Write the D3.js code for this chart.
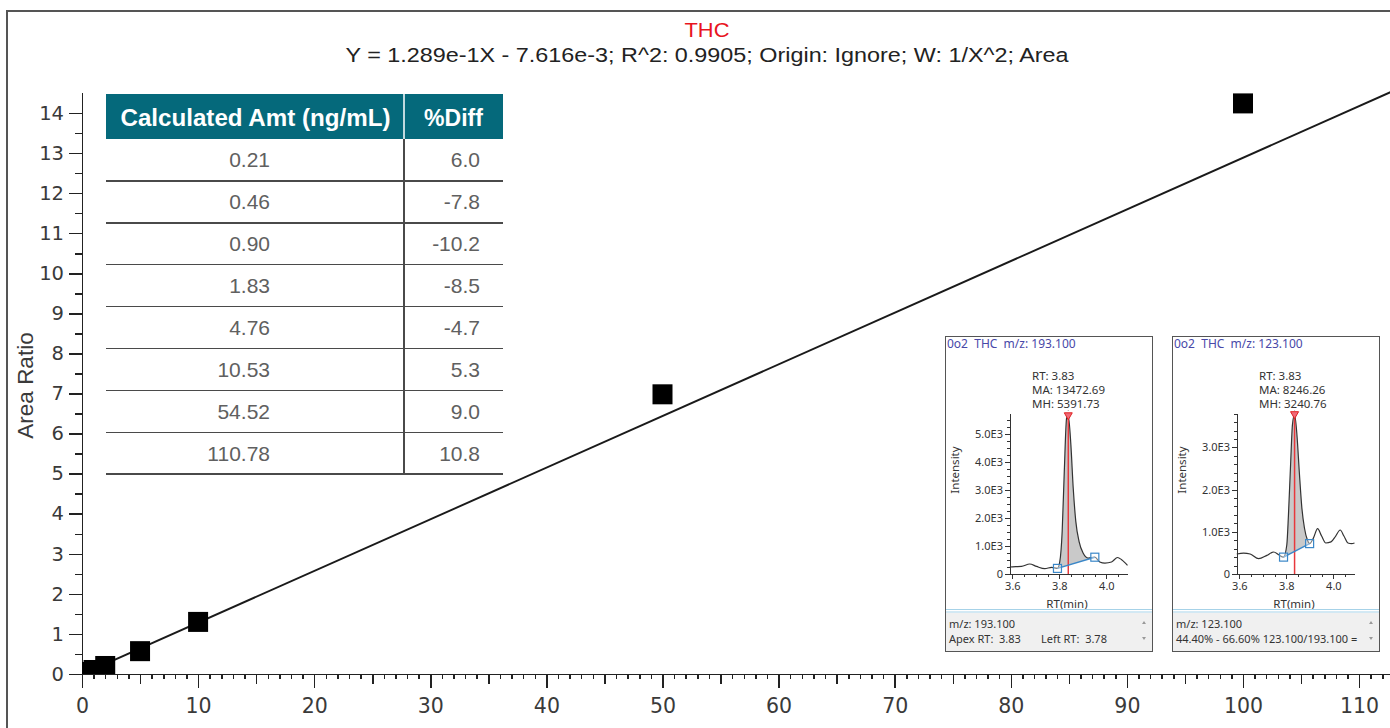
<!DOCTYPE html>
<meta charset="utf-8">
<style>
body { margin: 0; background: #fff; }
svg { display: block; font-family: "Liberation Sans", Arial, sans-serif; }
.axis path, .axis line { fill: none; stroke: #222; stroke-width: 1.5px; shape-rendering: crispEdges; }
.axis text { fill: #3a3a3a; font-family: "DejaVu Sans", sans-serif; }
.fit { fill: none; stroke: #1a1a1a; stroke-width: 1.9px; }
.std { fill: #000; }
.tbl-line { stroke: #4a4a4a; stroke-width: 1.5px; shape-rendering: crispEdges; }
.tbl-text { fill: #606060; font-size: 21px; }
.inset text { font-family: "Noto Sans", "Open Sans", sans-serif; font-size: 11.5px; fill: #333; white-space: pre; }
.inset .axis path, .inset .axis line { stroke: #333; stroke-width: 1px; }
.inset .axis text { font-family: "Noto Sans", "Open Sans", sans-serif; font-size: 11px; fill: #333; }
.trace { fill: none; stroke: #333; stroke-width: 1.2px; }
</style>
<body>
<svg width="1390" height="728"></svg>
<script src="https://cdnjs.cloudflare.com/ajax/libs/d3/7.8.5/d3.min.js"></script>
<script>
// calibration standards (ng/mL) and measured area ratio
var nominal = [0.2, 0.5, 1, 2, 5, 10, 50, 100];
var areaRatio = [0.02, 0.05, 0.1, 0.2, 0.57, 1.3, 6.98, 14.24];

// fitted line end points
var fitX = [0, 113];
var fitY = [-0.008, 14.558];

var xTicks = [0, 10, 20, 30, 40, 50, 60, 70, 80, 90, 100, 110];
var yTicks = [0, 1, 2, 3, 4, 5, 6, 7, 8, 9, 10, 11, 12, 13, 14];

// back-calculated table
var calcAmt = ["0.21", "0.46", "0.90", "1.83", "4.76", "10.53", "54.52", "110.78"];
var pctDiff = ["6.0", "-7.8", "-10.2", "-8.5", "-4.7", "5.3", "9.0", "10.8"];

// chromatogram m/z 193.100
var rt1 = [3.589, 3.615, 3.639, 3.674, 3.703, 3.738, 3.767, 3.792, 3.802, 3.812, 3.821, 3.831, 3.838, 3.849, 3.859, 3.870, 3.884, 3.901, 3.923, 3.951, 3.972, 3.994, 4.022, 4.048, 4.065, 4.090];
var int1 = [250, 260, 270, 357, 270, 190, 236, 200, 450, 1520, 3660, 5570, 5650, 4620, 3070, 1880, 1160, 750, 570, 600, 430, 390, 430, 590, 510, 310];

// chromatogram m/z 123.100
var rt2 = [3.589, 3.618, 3.646, 3.682, 3.717, 3.746, 3.767, 3.788, 3.802, 3.809, 3.818, 3.826, 3.835, 3.845, 3.855, 3.866, 3.877, 3.890, 3.899, 3.915, 3.933, 3.950, 3.968, 3.990, 4.010, 4.029, 4.045, 4.062, 4.078, 4.090];
var int2 = [474, 497, 474, 363, 441, 521, 457, 400, 694, 1405, 2590, 3540, 3775, 3300, 2430, 1565, 1090, 800, 720, 850, 1073, 900, 735, 760, 900, 1043, 900, 735, 720, 735];

var svg = d3.select("svg");

// outer frame
svg.append("path")
    .attr("d", "M7,728V11H1390")
    .attr("fill", "none")
    .attr("stroke", "#555")
    .attr("stroke-width", 2);

svg.append("text")
    .attr("x", 707).attr("y", 37)
    .attr("text-anchor", "middle")
    .attr("fill", "#e8141e")
    .attr("textLength", 45)
    .attr("lengthAdjust", "spacingAndGlyphs")
    .style("font-size", "21px")
    .text("THC");

svg.append("text")
    .attr("x", 707).attr("y", 62)
    .attr("text-anchor", "middle")
    .attr("fill", "#222")
    .attr("textLength", 723)
    .attr("lengthAdjust", "spacingAndGlyphs")
    .style("font-size", "20.5px")
    .text("Y = 1.289e-1X - 7.616e-3; R^2: 0.9905; Origin: Ignore; W: 1/X^2; Area");

var x = d3.scaleLinear().domain([0, 113]).range([82, 82 + 113 * 11.61]);
var y = d3.scaleLinear().domain([0, 14.5]).range([674, 674 - 14.5 * 40.07]);

// x axis
var minorX = d3.range(0, 114).filter(function(d) { return d % 5 !== 0; });
var midX = d3.range(5, 114, 10);
svg.append("g").attr("class", "axis")
    .attr("transform", "translate(0," + y(0) + ")")
    .call(d3.axisBottom(x).tickValues(minorX).tickSize(5).tickSizeOuter(0).tickFormat(""));
svg.append("g").attr("class", "axis")
    .attr("transform", "translate(0," + y(0) + ")")
    .call(d3.axisBottom(x).tickValues(midX).tickSize(10).tickSizeOuter(0).tickFormat(""));
svg.append("g").attr("class", "axis")
    .attr("transform", "translate(0," + y(0) + ")")
    .call(d3.axisBottom(x).tickValues(xTicks).tickSize(14).tickSizeOuter(0).tickPadding(10))
    .selectAll("text").style("font-size", "20.5px");

// y axis
var minorY = d3.range(0.5, 14.5, 1);
svg.append("g").attr("class", "axis")
    .attr("transform", "translate(" + x(0) + ",0)")
    .call(d3.axisLeft(y).tickValues(minorY).tickSize(7).tickSizeOuter(0).tickFormat(""));
svg.append("g").attr("class", "axis")
    .attr("transform", "translate(" + x(0) + ",0)")
    .call(d3.axisLeft(y).tickValues(yTicks).tickSize(13).tickSizeOuter(0).tickPadding(5))
    .selectAll("text").style("font-size", "19.5px");

svg.append("text")
    .attr("transform", "translate(33," + y(7.2) + ") rotate(-90)")
    .attr("text-anchor", "middle")
    .attr("fill", "#3a3a3a")
    .style("font-size", "22.5px")
    .text("Area Ratio");

// plot clip
svg.append("clipPath").attr("id", "plotclip")
  .append("rect")
    .attr("x", x(0)).attr("y", 0)
    .attr("width", 1400).attr("height", y(0));

var plot = svg.append("g").attr("clip-path", "url(#plotclip)");

plot.append("path")
    .datum(d3.zip(fitX, fitY))
    .attr("class", "fit")
    .attr("d", d3.line().x(function(d) { return x(d[0]); }).y(function(d) { return y(d[1]); }));

var sq = 20;
plot.selectAll(".std")
    .data(d3.zip(nominal, areaRatio))
  .enter().append("rect")
    .attr("class", "std")
    .attr("x", function(d) { return x(d[0]) - sq / 2; })
    .attr("y", function(d) { return y(d[1]) - sq / 2; })
    .attr("width", sq)
    .attr("height", sq);

// table
var tx0 = 106, tDiv = 404, tx1 = 503, hTop = 94, hBot = 139, rowH = 41.9;
var rowY = d3.scaleLinear().domain([0, 1]).range([hBot, hBot + rowH]);
var tbl = svg.append("g");
tbl.append("rect")
    .attr("x", tx0).attr("y", hTop)
    .attr("width", tx1 - tx0).attr("height", hBot - hTop)
    .attr("fill", "#05697b");
tbl.append("line")
    .attr("x1", tDiv).attr("x2", tDiv).attr("y1", hTop).attr("y2", hBot)
    .attr("stroke", "#fff").attr("stroke-width", 1.5);
tbl.append("text")
    .attr("x", (tx0 + tDiv) / 2 + 0.5).attr("y", 126)
    .attr("text-anchor", "middle").attr("fill", "#fff")
    .attr("textLength", 270)
    .attr("lengthAdjust", "spacingAndGlyphs")
    .style("font-size", "23px").style("font-weight", "bold")
    .text("Calculated Amt (ng/mL)");
tbl.append("text")
    .attr("x", (tDiv + tx1) / 2).attr("y", 126)
    .attr("text-anchor", "middle").attr("fill", "#fff")
    .style("font-size", "23px").style("font-weight", "bold")
    .text("%Diff");
tbl.append("line")
    .attr("class", "tbl-line")
    .attr("x1", tDiv).attr("x2", tDiv)
    .attr("y1", hBot).attr("y2", rowY(calcAmt.length));
tbl.selectAll(".row-line")
    .data(calcAmt)
  .enter().append("line")
    .attr("class", "tbl-line")
    .attr("x1", tx0).attr("x2", tx1)
    .attr("y1", function(d, i) { return rowY(i + 1); })
    .attr("y2", function(d, i) { return rowY(i + 1); });
tbl.selectAll(".amt")
    .data(calcAmt)
  .enter().append("text")
    .attr("class", "tbl-text")
    .attr("x", 270)
    .attr("y", function(d, i) { return rowY(i + 0.5) + 7.5; })
    .attr("text-anchor", "end")
    .text(function(d) { return d; });
tbl.selectAll(".diff")
    .data(pctDiff)
  .enter().append("text")
    .attr("class", "tbl-text")
    .attr("x", 480)
    .attr("y", function(d, i) { return rowY(i + 0.5) + 7.5; })
    .attr("text-anchor", "end")
    .text(function(d) { return d; });

// chromatogram insets
function drawInset(x0, cfg) {
  var W = 207, H = 315;
  var g = svg.append("g").attr("class", "inset").attr("transform", "translate(" + x0 + ",336)");
  g.append("rect").attr("x", 0.5).attr("y", 0.5).attr("width", W).attr("height", H)
      .attr("fill", "#fff").attr("stroke", "#555");

  var ix = d3.scaleLinear().domain([3.59, 4.09]).range([65, 182.5]);
  var iy = d3.scaleLinear().domain([0, cfg.yMax]).range([238, 77]);

  g.append("text").attr("x", 2).attr("y", 12).style("fill", "#4848a8").style("font-size", "12px")
      .text(cfg.title);
  cfg.ann.forEach(function(t, i) {
    g.append("text").attr("x", 87).attr("y", 44 + i * 14).text(t);
  });

  var pts = d3.zip(cfg.rt, cfg.int);
  var inWin = pts.filter(function(d) { return d[0] >= cfg.left[0] && d[0] <= cfg.right[0]; });
  var lg = d3.line().x(function(d) { return ix(d[0]); }).y(function(d) { return iy(d[1]); }).curve(d3.curveMonotoneX);

  g.append("path").attr("d", lg(inWin) + "Z").attr("fill", "#c9c9c9");

  // dotted guide from apex up to the label
  g.append("line")
      .attr("x1", ix(cfg.apex[0])).attr("x2", ix(cfg.apex[0]))
      .attr("y1", 74).attr("y2", iy(cfg.apex[1]) - 4)
      .attr("stroke", "#aaa").attr("stroke-dasharray", "1,2");

  // y axis
  g.append("g").attr("class", "axis")
      .attr("transform", "translate(65,0)")
      .call(d3.axisLeft(iy).tickValues(d3.range(0, cfg.yMax, cfg.yMinor)).tickSize(3).tickSizeOuter(0).tickFormat(""));
  g.append("g").attr("class", "axis")
      .attr("transform", "translate(65,0)")
      .call(d3.axisLeft(iy).tickValues(cfg.yMajor).tickSize(5).tickSizeOuter(0).tickPadding(2)
        .tickFormat(function(d) { return d === 0 ? "0" : (d / 1000).toFixed(1) + "E3"; }));

  // x axis
  g.append("g").attr("class", "axis")
      .attr("transform", "translate(0,238)")
      .call(d3.axisBottom(ix).tickValues(d3.range(3.65, 4.09, 0.05)).tickSize(3).tickSizeOuter(0).tickFormat(""));
  g.append("g").attr("class", "axis")
      .attr("transform", "translate(0,238)")
      .call(d3.axisBottom(ix).tickValues([3.6, 3.8, 4.0]).tickSize(5).tickSizeOuter(0).tickPadding(3)
        .tickFormat(d3.format(".1f")));

  g.append("text").attr("transform", "translate(14,134) rotate(-90)")
      .attr("text-anchor", "middle").text("Intensity");
  g.append("text").attr("x", 122).attr("y", 272)
      .attr("text-anchor", "middle").text("RT(min)");

  g.append("path").attr("class", "trace").attr("d", lg(pts));

  // apex marker
  g.append("line")
      .attr("x1", ix(cfg.apex[0])).attr("x2", ix(cfg.apex[0]))
      .attr("y1", iy(cfg.apex[1])).attr("y2", 238)
      .attr("stroke", "#e8383c").attr("stroke-width", 1.5);
  g.append("path")
      .attr("transform", "translate(" + ix(cfg.apex[0]) + "," + iy(cfg.apex[1]) + ")")
      .attr("d", "M-4,-3L4,-3L0,4Z")
      .attr("fill", "#f06a78").attr("stroke", "#e02020");

  // integration baseline
  g.append("line")
      .attr("x1", ix(cfg.left[0])).attr("y1", iy(cfg.left[1]))
      .attr("x2", ix(cfg.right[0])).attr("y2", iy(cfg.right[1]))
      .attr("stroke", "#3a87c8").attr("stroke-width", 1.5);
  [cfg.left, cfg.right].forEach(function(p) {
    g.append("rect")
        .attr("x", ix(p[0]) - 4).attr("y", iy(p[1]) - 4)
        .attr("width", 8).attr("height", 8)
        .attr("fill", "rgba(255,255,255,0.4)").attr("stroke", "#3a87c8").attr("stroke-width", 1.2);
  });

  // status pane
  g.append("line").attr("x1", 1).attr("x2", W).attr("y1", 273.5).attr("y2", 273.5).attr("stroke", "#a6d2e8");
  g.append("line").attr("x1", 1).attr("x2", W).attr("y1", 276).attr("y2", 276).attr("stroke", "#a6d2e8");
  g.append("rect").attr("x", 1).attr("y", 277).attr("width", W - 1).attr("height", H - 277).attr("fill", "#f0f0f0");
  cfg.footer.forEach(function(t, i) {
    g.append("text").attr("x", 4).attr("y", 292 + i * 15).style("font-size", "11px").text(t);
  });
  g.append("path").attr("d", "M" + (W - 10) + ",288l2,-3l2,3Z").attr("fill", "#999");
  g.append("path").attr("d", "M" + (W - 10) + ",301l2,3l2,-3Z").attr("fill", "#999");
}

drawInset(945, {
  title: "0o2  THC  m/z: 193.100",
  ann: ["RT: 3.83", "MA: 13472.69", "MH: 5391.73"],
  rt: rt1, int: int1,
  yMax: 5750, yMajor: [0, 1000, 2000, 3000, 4000, 5000], yMinor: 250,
  apex: [3.838, 5650], left: [3.792, 200], right: [3.951, 600],
  footer: ["m/z: 193.100", "Apex RT:  3.83       Left RT:  3.78"]
});

drawInset(1172, {
  title: "0o2  THC  m/z: 123.100",
  ann: ["RT: 3.83", "MA: 8246.26", "MH: 3240.76"],
  rt: rt2, int: int2,
  yMax: 3815, yMajor: [0, 1000, 2000, 3000], yMinor: 200,
  apex: [3.835, 3775], left: [3.788, 400], right: [3.899, 720],
  footer: ["m/z: 123.100", "44.40% - 66.60% 123.100/193.100 ="]
});
</script>
</body>
